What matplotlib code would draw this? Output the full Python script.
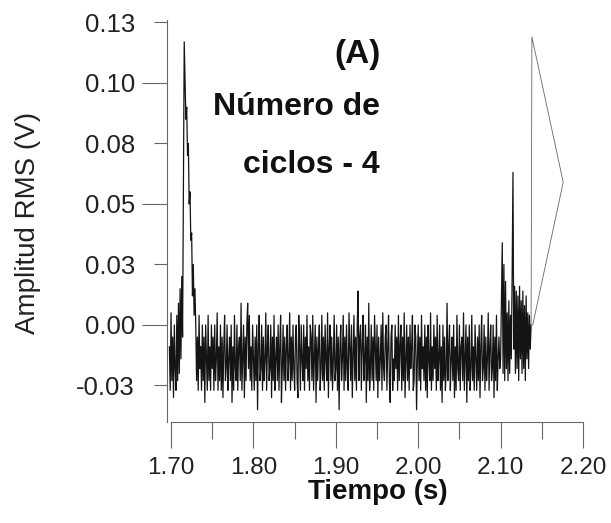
import numpy as np
import matplotlib
matplotlib.use("Agg")
import matplotlib.pyplot as plt
from matplotlib.ticker import FixedLocator, FixedFormatter

plt.rcParams['font.family'] = ['Liberation Sans', 'DejaVu Sans']

# sampled signal: one value every 1 ms starting at 1.698 s
t_start = 1.698
dt = 0.001

# start of record, first burst and its decay (1.698 - 1.729 s)
v_burst1 = [-0.009, -0.027, 0.005, -0.023, -0.005, -0.030, 0.000, -0.018,
            -0.027, 0.004, -0.023, 0.009, -0.020, 0.015, -0.014, 0.020,
            -0.005, 0.060, 0.117, 0.100, 0.085, 0.090, 0.070, 0.075,
            0.050, 0.055, 0.035, 0.038, 0.012, 0.025, 0.004, 0.015]

# background noise between the bursts (1.730 - 2.099 s)
v_noise = [
    0.000, -0.023, -0.005, -0.027, 0.004, -0.018, -0.009, -0.027, 0.000, -0.023,
    -0.005, -0.032, 0.000, -0.014, -0.027, 0.004, -0.023, -0.009, -0.027, 0.000,
    -0.018, -0.005, -0.027, 0.000, -0.023, -0.014, 0.005, -0.027, -0.009, -0.023,
    0.000, -0.027, -0.005, -0.030, -0.009, 0.004, -0.023, -0.018, 0.000, -0.027,
    -0.014, -0.005, -0.023, 0.000, -0.032, -0.009, -0.027, 0.004, -0.018, -0.023,
    0.000, -0.027, -0.009, -0.005, -0.023, 0.009, -0.027, -0.014, 0.000, -0.030,
    -0.005, -0.023, 0.000, 0.009, -0.018, 0.004, -0.023, -0.009, -0.027, 0.000,
    -0.014, -0.027, -0.005, -0.023, 0.000, -0.035, -0.009, 0.004, -0.023, -0.018,
    0.000, -0.027, -0.005, -0.023, -0.014, 0.005, -0.027, -0.009, 0.000, -0.023,
    -0.018, 0.000, -0.030, -0.005, -0.023, 0.004, -0.027, -0.014, -0.005, -0.023,
    0.000, -0.027, -0.009, 0.004, -0.032, -0.018, 0.000, -0.023, -0.005, -0.027,
    -0.009, 0.000, -0.023, -0.014, 0.005, -0.027, -0.005, -0.023, 0.000, -0.018,
    -0.027, -0.005, 0.000, -0.023, -0.030, 0.004, -0.009, -0.027, 0.000, -0.014,
    -0.023, 0.000, -0.027, -0.005, -0.018, 0.004, -0.023, -0.009, -0.027, 0.000,
    -0.005, -0.023, 0.004, -0.027, -0.014, 0.000, -0.032, -0.005, -0.023, -0.009,
    0.000, -0.027, -0.018, 0.004, -0.023, -0.005, -0.027, 0.000, -0.014, -0.023,
    0.005, -0.030, -0.009, 0.000, -0.023, -0.005, -0.027, -0.014, 0.004, -0.023,
    -0.018, 0.000, -0.027, -0.005, -0.035, -0.009, 0.000, -0.023, -0.014, 0.004,
    -0.027, -0.005, -0.023, 0.000, -0.018, -0.027, 0.005, -0.009, -0.023, 0.000,
    -0.030, -0.014, 0.004, -0.023, -0.005, -0.027, 0.000, 0.014, -0.023, -0.005,
    0.000, -0.027, -0.009, 0.004, -0.023, -0.014, 0.000, -0.032, -0.005, -0.023,
    0.009, -0.027, -0.018, 0.000, -0.023, -0.005, -0.027, 0.004, -0.009, -0.023,
    0.000, -0.030, -0.005, -0.023, -0.014, 0.000, -0.027, 0.005, -0.018, -0.023,
    -0.005, 0.000, -0.027, -0.009, 0.004, -0.023, -0.032, -0.005, 0.000, -0.027,
    -0.014, -0.023, 0.000, -0.018, -0.005, -0.027, 0.004, -0.023, -0.009, 0.000,
    -0.027, -0.005, -0.023, 0.005, -0.030, -0.014, 0.000, -0.023, -0.005, -0.027,
    0.000, -0.018, -0.009, 0.004, -0.027, -0.023, 0.000, -0.005, -0.035, -0.014,
    0.000, -0.023, -0.005, -0.027, 0.004, -0.018, -0.009, -0.023, 0.000, -0.027,
    -0.005, -0.030, 0.000, -0.014, -0.023, 0.005, -0.027, -0.009, -0.023, 0.000,
    -0.018, -0.005, -0.027, 0.004, -0.023, -0.014, 0.000, -0.027, -0.009, -0.032,
    0.000, -0.023, -0.005, -0.027, -0.018, 0.009, -0.023, -0.009, 0.000, -0.027,
    -0.014, -0.005, -0.023, 0.000, -0.030, -0.009, -0.027, 0.004, -0.018, -0.023,
    0.000, -0.027, -0.009, -0.005, -0.023, 0.005, -0.027, -0.014, 0.000, -0.032,
    -0.005, -0.023, 0.000, -0.027, -0.018, 0.004, -0.023, -0.009, -0.027, 0.000,
    -0.014, -0.027, -0.005, -0.023, 0.000, -0.030, -0.009, 0.004, -0.023, -0.018,
    0.000, -0.027, -0.005, -0.023, -0.014, 0.005, -0.027, -0.009, 0.000, -0.023,
    -0.018, 0.000, -0.030, -0.005, -0.023, 0.004, -0.027, -0.014, -0.005, -0.018,
]

# last burst (2.100 - 2.137 s)
v_burst2 = [-0.014, 0.010, 0.034, -0.020, 0.025, -0.023, 0.018, -0.018,
            0.005, -0.023, 0.010, -0.020, 0.004, -0.014, 0.020, 0.063,
            -0.010, 0.016, -0.020, 0.014, -0.018, 0.012, -0.023, 0.016,
            -0.014, 0.010, -0.020, 0.014, -0.018, 0.008, -0.023, 0.012,
            -0.014, 0.005, -0.018, 0.004, -0.010, 0.000]

# end of the trace (goes back in time)
t_tail = [2.138, 2.176, 2.139]
v_tail = [0.119, 0.059, 0.000]

ytick_major = [0.0, 0.05, 0.10]
ytick_major_lbl = ['0.00', '0.05', '0.10']
ytick_minor = [-0.025, 0.025, 0.075, 0.125]
ytick_minor_lbl = ['-0.03', '0.03', '0.08', '0.13']
xtick_major = [1.70, 1.80, 1.90, 2.00, 2.10, 2.20]
xtick_major_lbl = ['1.70', '1.80', '1.90', '2.00', '2.10', '2.20']
xtick_minor = [1.75, 1.85, 1.95, 2.05, 2.15]

v = np.array(v_burst1 + v_noise + v_burst2)
t = t_start + dt*np.arange(len(v))

W, H = 611, 523
fig = plt.figure(figsize=(W/100, H/100), dpi=100)
ax = fig.add_axes([0.2732, 0.1935, 0.6877, 0.7775])

ax.plot(t, v, color='#141414', lw=0.9)
ax.plot([t[-1]] + t_tail, [v[-1]] + v_tail, color='#666666', lw=0.6)

ax.set_xlim(1.695, 2.205)
ax.set_ylim(-0.040, 0.128)

for s in ['top', 'right']:
    ax.spines[s].set_visible(False)
ax.spines['left'].set_bounds(-0.040, 0.126)
ax.spines['bottom'].set_bounds(1.70, 2.20)
for s in ['left', 'bottom']:
    ax.spines[s].set_color('#666666')
    ax.spines[s].set_linewidth(0.8)

ax.yaxis.set_major_locator(FixedLocator(ytick_major))
ax.yaxis.set_major_formatter(FixedFormatter(ytick_major_lbl))
ax.yaxis.set_minor_locator(FixedLocator(ytick_minor))
ax.yaxis.set_minor_formatter(FixedFormatter(ytick_minor_lbl))
ax.xaxis.set_major_locator(FixedLocator(xtick_major))
ax.xaxis.set_major_formatter(FixedFormatter(xtick_major_lbl))
ax.xaxis.set_minor_locator(FixedLocator(xtick_minor))

ax.tick_params(axis='y', which='major', direction='out', length=18, width=0.8,
               pad=5, labelsize=18.5, colors='#666666', labelcolor='#222222')
ax.tick_params(axis='y', which='minor', direction='out', length=9.5, width=0.8,
               pad=13.5, labelsize=18.5, colors='#666666', labelcolor='#222222')
ax.tick_params(axis='x', which='major', direction='out', length=19, width=0.8,
               pad=6, labelsize=17.5, colors='#666666', labelcolor='#222222')
ax.tick_params(axis='x', which='minor', direction='out', length=12, width=0.8,
               colors='#666666')

fig.text(28/W, 1 - 223/H, 'Amplitud RMS (V)', rotation=90, ha='center',
         va='center', fontsize=20, color='#222222')
fig.text(378/W, 1 - 499/H, 'Tiempo (s)', ha='center', va='baseline',
         fontsize=20, fontweight='bold', color='#111111')
fig.text(357/W, 1 - 55/H, '(A)', ha='center', va='center',
         fontsize=24, fontweight='bold', color='#111111')
fig.text(380/W, 1 - 115/H, 'Número de', ha='right', va='baseline',
         fontsize=23, fontweight='bold', color='#111111')
fig.text(380/W, 1 - 173/H, 'ciclos - 4', ha='right', va='baseline',
         fontsize=23, fontweight='bold', color='#111111')

fig.savefig('out.png', dpi=100)
